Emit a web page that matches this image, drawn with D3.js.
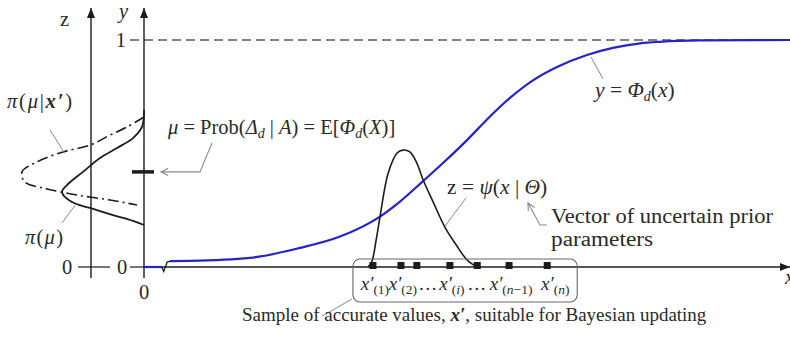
<!DOCTYPE html>
<html lang="en">
<head>
<meta charset="UTF-8">
<title>Bayesian updating of a fragility curve</title>
<script src="https://cdnjs.cloudflare.com/ajax/libs/d3/7.8.5/d3.min.js"></script>
<style>
    body { margin: 0; background: #fff; }
    svg { display: block; font-family: 'Liberation Serif', serif; }
    .lbl { fill: #2a2a2a; font-size: 20.5px; }
    .it { font-style: italic; }
</style>
</head>
<body>
<svg id="chart" width="790" height="340"></svg>
<script>
    // fragility curve y = Phi_d(x), x in arbitrary units 0..100
    const phiLowX = [0, 2.8];
    const phiLowY = [0, 0];
    const phiX = [4.09, 7.23, 16.67, 24.53, 30.82, 37.11, 40.25, 43.71, 47.01, 50.79, 53.93, 57.55, 61.16, 64.94, 69.65, 73.74, 77.99, 81.13, 87.42, 101.6];
    const phiY = [0.026, 0.027, 0.040, 0.084, 0.134, 0.222, 0.288, 0.374, 0.458, 0.559, 0.650, 0.745, 0.822, 0.881, 0.934, 0.965, 0.985, 0.992, 0.998, 1.0];

    // sampling density z = psi(x | Theta)
    const psiX = [35.2, 35.8, 36.5, 37.1, 38.4, 39.8, 40.7, 41.8, 42.9, 43.9, 45.6, 47.3, 49.1, 50.8, 52.4];
    const psiZ = [0, 0.022, 0.119, 0.220, 0.414, 0.502, 0.515, 0.507, 0.458, 0.383, 0.278, 0.176, 0.097, 0.031, 0];

    // sample x'(1) ... x'(n)
    const sampleX = [36.0, 40.4, 42.9, 48.1, 52.4, 57.4, 63.4];
    const sampleSub = ["(1)", "(2)", null, "(i)", null, "(n\u22121)", "(n)"];

    // prior pi(mu) and posterior pi(mu|x'), drawn sideways on the y axis
    const priorMu = [0.692, 0.617, 0.568, 0.524, 0.480, 0.419, 0.361, 0.330, 0.286, 0.260, 0.229, 0.203, 0.185];
    const priorD  = [0, 0.016, 0.089, 0.218, 0.355, 0.492, 0.621, 0.661, 0.581, 0.435, 0.250, 0.089, 0];
    const postMu = [0.661, 0.617, 0.581, 0.537, 0.507, 0.463, 0.419, 0.374, 0.344, 0.317, 0.295, 0.273];
    const postD  = [0, 0.137, 0.274, 0.435, 0.653, 0.863, 0.984, 0.960, 0.782, 0.540, 0.274, 0.056];
    const muMean = 0.419;

    const svg = d3.select("#chart");
    const ink = "#1c1c1c", grey = "#8a8a8a", blue = "#2424c8";

    const x = d3.scaleLinear().domain([0, 100]).range([144, 780]);
    const y = d3.scaleLinear().domain([0, 1]).range([267, 40]);
    const dens = d3.scaleLinear().domain([0, 1]).range([144, 20]);

    const zAxisX = 91;

    // arrow markers
    const defs = svg.append("defs");
    defs.append("marker").attr("id", "tri")
        .attr("viewBox", "0 0 10 10").attr("refX", 10).attr("refY", 5)
        .attr("markerWidth", 10).attr("markerHeight", 10).attr("markerUnits", "userSpaceOnUse")
        .attr("orient", "auto")
        .append("path").attr("d", "M0,1 L10,5 L0,9 Z").attr("fill", ink);
    defs.append("marker").attr("id", "open")
        .attr("viewBox", "0 0 10 10").attr("refX", 9).attr("refY", 5)
        .attr("markerWidth", 9).attr("markerHeight", 9).attr("markerUnits", "userSpaceOnUse")
        .attr("orient", "auto")
        .append("path").attr("d", "M1,1 L9,5 L1,9").attr("fill", "none").attr("stroke", grey).attr("stroke-width", 1.3);

    // dashed level y = 1
    svg.append("line")
        .attr("x1", 130).attr("x2", 790).attr("y1", y(1)).attr("y2", y(1))
        .attr("stroke", "#5a5a5a").attr("stroke-width", 1.5).attr("stroke-dasharray", "9,5");

    // axes
    svg.append("line").attr("x1", zAxisX).attr("x2", zAxisX).attr("y1", 278).attr("y2", 8)
        .attr("stroke", ink).attr("stroke-width", 1.4).attr("marker-end", "url(#tri)");
    svg.append("line").attr("x1", x(0)).attr("x2", x(0)).attr("y1", 278).attr("y2", 8)
        .attr("stroke", ink).attr("stroke-width", 1.4).attr("marker-end", "url(#tri)");
    svg.append("line").attr("x1", x(0)).attr("x2", 790).attr("y1", y(0)).attr("y2", y(0))
        .attr("stroke", ink).attr("stroke-width", 1.4).attr("marker-end", "url(#tri)");
    // zero ticks
    svg.append("line").attr("x1", 78).attr("x2", 110).attr("y1", y(0)).attr("y2", y(0))
        .attr("stroke", ink).attr("stroke-width", 1.2);
    svg.append("line").attr("x1", 130).attr("x2", x(0)).attr("y1", y(0)).attr("y2", y(0))
        .attr("stroke", ink).attr("stroke-width", 1.2);

    // axis labels
    svg.append("text").attr("class", "lbl").attr("x", 60).attr("y", 26).text("z");
    svg.append("text").attr("class", "lbl it").attr("x", 119).attr("y", 18).text("y");
    svg.append("text").attr("class", "lbl").attr("x", 126).attr("y", y(1) + 7).attr("text-anchor", "end").text("1");
    svg.append("text").attr("class", "lbl").attr("x", 67).attr("y", y(0) + 7).attr("text-anchor", "middle").text("0");
    svg.append("text").attr("class", "lbl").attr("x", 122).attr("y", y(0) + 7).attr("text-anchor", "middle").text("0");
    svg.append("text").attr("class", "lbl").attr("x", x(0)).attr("y", 299).attr("text-anchor", "middle").text("0");
    svg.append("text").attr("class", "lbl it").attr("x", 785).attr("y", 284).text("x");

    // fragility curve
    const lineXY = d3.line().x(d => x(d[0])).y(d => y(d[1])).curve(d3.curveMonotoneX);
    svg.append("path").datum(d3.zip(phiLowX, phiLowY)).attr("d", lineXY)
        .attr("fill", "none").attr("stroke", blue).attr("stroke-width", 2.2);
    svg.append("path").datum(d3.zip(phiX, phiY)).attr("d", lineXY)
        .attr("fill", "none").attr("stroke", blue).attr("stroke-width", 2.2);
    // break mark
    svg.append("path")
        .attr("d", d3.line()([[x(2.8), y(0)], [x(3.1), y(-0.02)], [x(3.65), y(0.022)], [x(4.1), y(0.026)]]))
        .attr("fill", "none").attr("stroke", ink).attr("stroke-width", 1.3);

    // psi density
    svg.append("path").datum(d3.zip(psiX, psiZ))
        .attr("d", d3.line().x(d => x(d[0])).y(d => y(d[1])).curve(d3.curveCatmullRom.alpha(0.5)))
        .attr("fill", "none").attr("stroke", ink).attr("stroke-width", 1.6);

    // prior / posterior sideways
    const side = d3.line().x(d => dens(d[1])).y(d => y(d[0])).curve(d3.curveCatmullRom.alpha(0.5));
    svg.append("path").datum(d3.zip(priorMu, priorD)).attr("d", side)
        .attr("fill", "none").attr("stroke", ink).attr("stroke-width", 1.8);
    svg.append("path").datum(d3.zip(postMu, postD)).attr("d", side)
        .attr("fill", "none").attr("stroke", ink).attr("stroke-width", 1.6)
        .attr("stroke-dasharray", "11,4,2,4");

    // mean marker
    svg.append("line").attr("x1", 132).attr("x2", 154).attr("y1", y(muMean)).attr("y2", y(muMean))
        .attr("stroke", ink).attr("stroke-width", 3.5);

    // sample box and points
    const sx0 = x(d3.min(sampleX)) - 20, sx1 = x(d3.max(sampleX)) + 30;
    svg.append("rect").attr("x", sx0).attr("y", 259).attr("width", sx1 - sx0).attr("height", 43)
        .attr("rx", 7).attr("fill", "none").attr("stroke", "#666").attr("stroke-width", 1.1);
    svg.selectAll("rect.pt").data(sampleX).join("rect").attr("class", "pt")
        .attr("x", d => x(d) - 3.5).attr("y", y(0) - 5).attr("width", 7).attr("height", 7)
        .attr("fill", ink);

    // labels under the points; the ellipses go in the gap between their neighbours
    const sl = svg.selectAll("text.smp").data(sampleX).join("text").attr("class", "lbl smp")
        .attr("x", (d, i) => x(d) + 2 + (i === sampleX.length - 1 ? 6 : 0))
        .attr("y", 290).attr("text-anchor", "middle")
        .style("font-size", "19px");
    sl.each(function(d, i) {
        const t = d3.select(this);
        if (sampleSub[i] === null) { t.text("\u2026"); return; }
        t.append("tspan").attr("class", "it").text("x\u2032");
        t.append("tspan").attr("dy", 4).style("font-size", "13.5px")
            .html(sampleSub[i].replace(/([in])/g, "<tspan class='it'>$1</tspan>"));
    });
    const boxes = sl.nodes().map(n => n.getBBox());
    sl.filter((d, i) => sampleSub[i] === null)
        .attr("x", function() {
            const i = sl.nodes().indexOf(this);
            return (boxes[i - 1].x + boxes[i - 1].width + boxes[i + 1].x) / 2;
        });

    // caption
    svg.append("line").attr("x1", 352).attr("y1", 299).attr("x2", 322).attr("y2", 316)
        .attr("stroke", grey).attr("stroke-width", 1);
    const cap = svg.append("text").attr("class", "lbl").attr("x", 242).attr("y", 321).style("font-size", "19px");
    cap.append("tspan").text("Sample of accurate values, ");
    cap.append("tspan").attr("class", "it").style("font-weight", "bold").text("x\u2032");
    cap.append("tspan").text(", suitable for Bayesian updating");

    // pi(mu | x') label
    svg.append("line").attr("x1", 50).attr("y1", 130).attr("x2", 64).attr("y2", 152)
        .attr("stroke", grey).attr("stroke-width", 1);
    const t1 = svg.append("text").attr("class", "lbl").attr("x", 7).attr("y", 108)
        .attr("textLength", 65).attr("lengthAdjust", "spacing");
    t1.append("tspan").attr("class", "it").text("\u03C0");
    t1.append("tspan").text("(");
    t1.append("tspan").attr("class", "it").text("\u03BC");
    t1.append("tspan").text("|");
    t1.append("tspan").attr("class", "it").style("font-weight", "bold").text("x\u2032");
    t1.append("tspan").text(")");

    // pi(mu) label
    svg.append("line").attr("x1", 62).attr("y1", 223).attr("x2", 76).attr("y2", 204)
        .attr("stroke", grey).attr("stroke-width", 1);
    const t2 = svg.append("text").attr("class", "lbl").attr("x", 25).attr("y", 244)
        .attr("textLength", 38).attr("lengthAdjust", "spacing");
    t2.append("tspan").attr("class", "it").text("\u03C0");
    t2.append("tspan").text("(");
    t2.append("tspan").attr("class", "it").text("\u03BC");
    t2.append("tspan").text(")");

    // mu definition with leader to the mean marker
    svg.append("path").attr("d", `M212,143 L200,${y(muMean)} L161,${y(muMean)}`)
        .attr("fill", "none").attr("stroke", grey).attr("stroke-width", 1.1)
        .attr("marker-end", "url(#open)");
    const t3 = svg.append("text").attr("class", "lbl").attr("x", 168).attr("y", 134);
    t3.append("tspan").attr("class", "it").text("\u03BC");
    t3.append("tspan").text(" = Prob(");
    t3.append("tspan").attr("class", "it").text("\u0394");
    t3.append("tspan").attr("class", "it").attr("dy", 4).style("font-size", "14px").text("d");
    t3.append("tspan").attr("dy", -4).text(" | ");
    t3.append("tspan").attr("class", "it").text("A");
    t3.append("tspan").text(") = E[");
    t3.append("tspan").attr("class", "it").text("\u03A6");
    t3.append("tspan").attr("class", "it").attr("dy", 4).style("font-size", "14px").text("d");
    t3.append("tspan").attr("dy", -4).text("(");
    t3.append("tspan").attr("class", "it").text("X");
    t3.append("tspan").text(")]");

    // y = Phi_d(x)
    svg.append("line").attr("x1", 591).attr("y1", 57).attr("x2", 603).attr("y2", 79)
        .attr("stroke", grey).attr("stroke-width", 1);
    const t4 = svg.append("text").attr("class", "lbl").attr("x", 595).attr("y", 97)
        .style("font-size", "21.5px");
    t4.append("tspan").attr("class", "it").text("y");
    t4.append("tspan").text(" = ");
    t4.append("tspan").attr("class", "it").text("\u03A6");
    t4.append("tspan").attr("class", "it").attr("dy", 4).style("font-size", "14px").text("d");
    t4.append("tspan").attr("dy", -4).text("(");
    t4.append("tspan").attr("class", "it").text("x");
    t4.append("tspan").text(")");

    // z = psi(x | Theta)
    svg.append("line").attr("x1", 466).attr("y1", 198).attr("x2", 445).attr("y2", 226)
        .attr("stroke", grey).attr("stroke-width", 1);
    const t5 = svg.append("text").attr("class", "lbl").attr("x", 447).attr("y", 194)
        .style("font-size", "21.5px");
    t5.append("tspan").text("z = ");
    t5.append("tspan").attr("class", "it").text("\u03C8");
    t5.append("tspan").text("(");
    t5.append("tspan").attr("class", "it").text("x");
    t5.append("tspan").text(" | ");
    t5.append("tspan").attr("class", "it").text("\u0398");
    t5.append("tspan").text(")");

    // Theta note
    svg.append("path").attr("d", "M547,225 L540,225 L528,203")
        .attr("fill", "none").attr("stroke", grey).attr("stroke-width", 1.1)
        .attr("marker-end", "url(#open)");
    svg.append("text").attr("class", "lbl").attr("x", 551).attr("y", 223)
        .attr("textLength", 222).attr("lengthAdjust", "spacingAndGlyphs").text("Vector of uncertain prior");
    svg.append("text").attr("class", "lbl").attr("x", 551).attr("y", 246)
        .attr("textLength", 102).attr("lengthAdjust", "spacingAndGlyphs").text("parameters");
</script>
</body>
</html>
